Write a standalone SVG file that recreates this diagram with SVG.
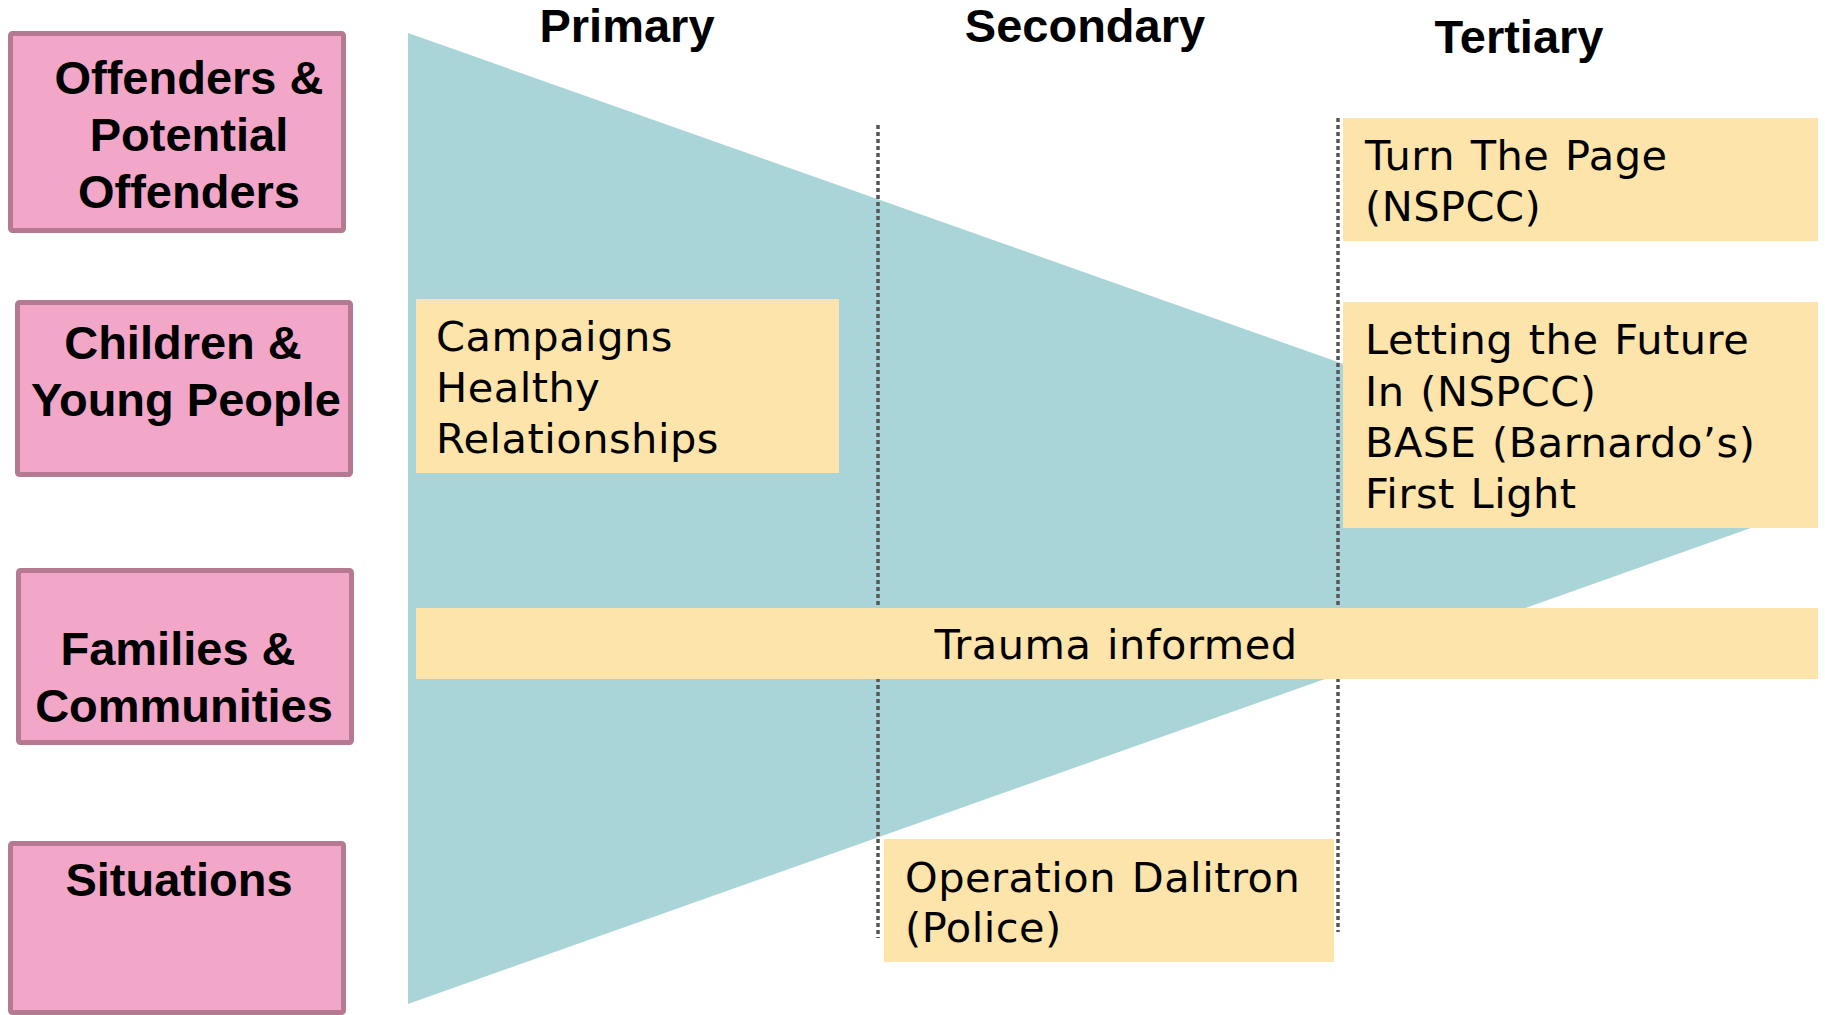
<svg xmlns="http://www.w3.org/2000/svg" width="1825" height="1015" viewBox="0 0 1825 1015">
  <style>
    .pink { fill: #F2A6C8; stroke: #B57A91; stroke-width: 5; }
    .plabel { font-family: "Liberation Sans", Arial, sans-serif; font-weight: bold; font-size: 47px; fill: #000; text-anchor: middle; }
    .head { font-family: "Liberation Sans", Arial, sans-serif; font-weight: bold; font-size: 47px; fill: #000; text-anchor: middle; }
    .yel { fill: #FDE4AA; }
    .ytext { font-family: "DejaVu Sans", Verdana, sans-serif; font-size: 41.5px; fill: #000; letter-spacing: 0.5px; word-spacing: 2px; }
    .divider { stroke: #555555; stroke-width: 3.5; stroke-dasharray: 4 3; fill: none; }
  </style>
  <rect width="1825" height="1015" fill="#FFFFFF"/>

  <g id="funnel">
    <polygon points="408,33 1779,518 408,1004" fill="#A9D5D8"/>
  </g>

  <g id="headers">
    <text class="head" x="627" y="42">Primary</text>
    <text class="head" x="1085" y="42">Secondary</text>
    <text class="head" x="1519" y="53">Tertiary</text>
  </g>

  <g id="connectors">
    <line class="divider" x1="878" y1="125" x2="878" y2="938"/>
    <line class="divider" x1="1338" y1="118" x2="1338" y2="932"/>
  </g>

  <g id="node-offenders">
    <rect class="pink" x="10.5" y="33.5" width="333" height="197" rx="2"/>
    <text class="plabel" x="189" y="94">Offenders &amp;</text>
    <text class="plabel" x="189" y="151">Potential</text>
    <text class="plabel" x="189" y="208">Offenders</text>
  </g>

  <g id="node-children">
    <rect class="pink" x="17.5" y="302.5" width="333" height="172" rx="2"/>
    <text class="plabel" x="183" y="359">Children &amp;</text>
    <text class="plabel" x="186" y="416">Young People</text>
  </g>

  <g id="node-families">
    <rect class="pink" x="18.5" y="570.5" width="333" height="172" rx="2"/>
    <text class="plabel" x="178" y="665">Families &amp;</text>
    <text class="plabel" x="184" y="722">Communities</text>
  </g>

  <g id="node-situations">
    <rect class="pink" x="10.5" y="843.5" width="333" height="169" rx="2"/>
    <text class="plabel" x="179" y="896">Situations</text>
  </g>

  <g id="node-campaigns">
    <rect class="yel" x="416" y="299" width="423" height="174"/>
    <text class="ytext" x="436" y="351">Campaigns</text>
    <text class="ytext" x="436" y="402">Healthy</text>
    <text class="ytext" x="436" y="453">Relationships</text>
  </g>

  <g id="node-turnthepage">
    <rect class="yel" x="1343" y="118" width="475" height="123"/>
    <text class="ytext" x="1365" y="170">Turn The Page</text>
    <text class="ytext" x="1365" y="221">(NSPCC)</text>
  </g>

  <g id="node-letting">
    <rect class="yel" x="1343" y="302" width="475" height="226"/>
    <text class="ytext" x="1365" y="354">Letting the Future</text>
    <text class="ytext" x="1365" y="406">In (NSPCC)</text>
    <text class="ytext" x="1365" y="457">BASE (Barnardo’s)</text>
    <text class="ytext" x="1365" y="508">First Light</text>
  </g>

  <g id="node-trauma">
    <rect class="yel" x="416" y="608" width="1402" height="71"/>
    <text class="ytext" x="1116" y="659" text-anchor="middle">Trauma informed</text>
  </g>

  <g id="node-dalitron">
    <rect class="yel" x="884" y="839" width="450" height="123"/>
    <text class="ytext" x="905" y="892">Operation Dalitron</text>
    <text class="ytext" x="905" y="942">(Police)</text>
  </g>
</svg>
